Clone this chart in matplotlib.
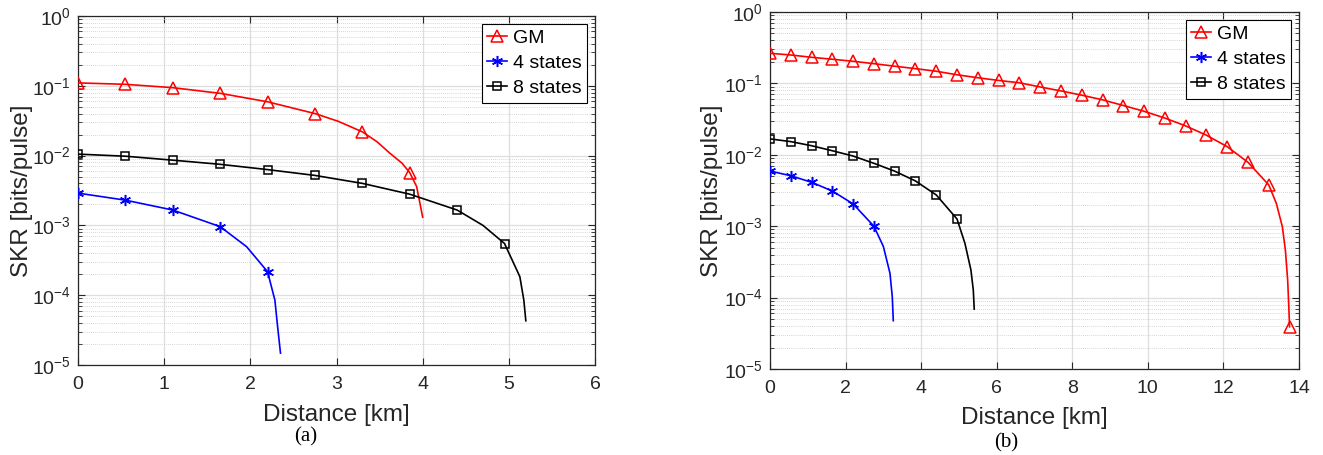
import matplotlib
matplotlib.use("Agg")
import matplotlib.pyplot as plt
from matplotlib.lines import Line2D
import numpy as np

plt.rcParams["font.family"] = ["Liberation Sans", "DejaVu Sans"]
plt.rcParams["mathtext.default"] = "regular"
plt.rcParams["axes.unicode_minus"] = False

# ---- panel (a): markers every 0.55 km, plus extra points ----
gm_a_d = [0, 0.55, 1.1, 1.65, 2.2, 2.75, 3.3, 3.85]
gm_a_skr = [0.110, 0.105, 0.094, 0.078, 0.059, 0.040, 0.0219, 0.0057]
gm_a_tail_d = [3.02, 3.47, 3.62, 3.76, 3.93, 4.0]
gm_a_tail_skr = [0.031, 0.0158, 0.0108, 0.0078, 0.0036, 0.00131]

s4_a_d = [0, 0.55, 1.1, 1.65, 2.2]
s4_a_skr = [0.0029, 0.0023, 0.00166, 0.00096, 0.000217]
s4_a_tail_d = [1.957, 2.285, 2.317, 2.35]
s4_a_tail_skr = [4.95e-4, 8.5e-5, 3.5e-5, 1.48e-5]

s8_a_d = [0, 0.55, 1.1, 1.65, 2.2, 2.75, 3.3, 3.85, 4.4, 4.95]
s8_a_skr = [0.0105, 0.0098, 0.0086, 0.0075, 0.0063, 0.0052, 0.0040, 0.0028, 0.00166, 0.00055]
s8_a_tail_d = [4.7, 5.128, 5.174, 5.197]
s8_a_tail_skr = [0.00100, 1.84e-4, 8.5e-5, 4.3e-5]

# ---- panel (b) ----
gm_b_d = [0, 0.55, 1.1, 1.65, 2.2, 2.75, 3.3, 3.85, 4.4, 4.95, 5.5, 6.05, 6.6,
          7.15, 7.7, 8.25, 8.8, 9.35, 9.9, 10.45, 11.0, 11.55, 12.1, 12.65, 13.2, 13.75]
gm_b_skr = [0.264, 0.250, 0.232, 0.218, 0.204, 0.189, 0.174, 0.161, 0.148, 0.132,
            0.120, 0.110, 0.102, 0.0891, 0.0785, 0.0684, 0.0589, 0.049, 0.0407,
            0.0327, 0.0254, 0.0188, 0.0130, 0.00785, 0.00378, 3.9e-5]
gm_b_tail_d = [13.40, 13.56, 13.64, 13.70, 13.73]
gm_b_tail_skr = [2.09e-3, 9.8e-4, 4.6e-4, 1.76e-4, 7.5e-5]

s4_b_d = [0, 0.55, 1.1, 1.65, 2.2, 2.75]
s4_b_skr = [0.00593, 0.00509, 0.00412, 0.00311, 0.00205, 0.00100]
s4_b_tail_d = [3.0, 3.175, 3.236, 3.263]
s4_b_tail_skr = [5.2e-4, 2.19e-4, 1.03e-4, 4.75e-5]

s8_b_d = [0, 0.55, 1.1, 1.65, 2.2, 2.75, 3.3, 3.85, 4.4, 4.95]
s8_b_skr = [0.0167, 0.0153, 0.0134, 0.0114, 0.0096, 0.0076, 0.0059, 0.0043, 0.00274, 0.00126]
s8_b_tail_d = [5.159, 5.317, 5.38, 5.405]
s8_b_tail_skr = [5.75e-4, 2.44e-4, 1.28e-4, 6.9e-5]

labels = ["GM", "4 states", "8 states"]
colors = ["#ff0000", "#0000ff", "#000000"]
markers = ["^", (6, 2, 0), "s"]
msizes = [8, 8, 6]

W, H = 1323, 455
fig = plt.figure(figsize=(W / 100, H / 100), dpi=100)
ax_a = fig.add_axes([78 / W, 1 - 365 / H, 517 / W, 349 / H])
ax_b = fig.add_axes([770 / W, 1 - 369 / H, 529 / W, 357 / H])

panels = [
    (ax_a, [(gm_a_d, gm_a_skr, gm_a_tail_d, gm_a_tail_skr),
            (s4_a_d, s4_a_skr, s4_a_tail_d, s4_a_tail_skr),
            (s8_a_d, s8_a_skr, s8_a_tail_d, s8_a_tail_skr)], 6, 1),
    (ax_b, [(gm_b_d, gm_b_skr, gm_b_tail_d, gm_b_tail_skr),
            (s4_b_d, s4_b_skr, s4_b_tail_d, s4_b_tail_skr),
            (s8_b_d, s8_b_skr, s8_b_tail_d, s8_b_tail_skr)], 14, 2),
]

dark = "#262626"
for ax, series, xmax, xstep in panels:
    for (d, s, td, ts), c, m, ms in zip(series, colors, markers, msizes):
        xd = np.concatenate([d, td])
        ys = np.concatenate([s, ts])
        order = np.argsort(xd)
        ax.plot(xd[order], ys[order], color=c, lw=1.2, zorder=3)
        ax.plot(d, s, ls="none", marker=m, ms=ms, mfc="none", mec=c, mew=1.1, zorder=4)

    ax.set_yscale("log")
    ax.set_ylim(1e-5, 1)
    ax.set_xlim(0, xmax)
    ax.set_xticks(np.arange(0, xmax + 0.1, xstep))
    ax.grid(which="major", color="#dedede", lw=0.9, ls="-")
    ax.grid(which="minor", axis="y", color="#c8c8c8", lw=0.6, ls=(0, (1, 1.5)))
    ax.set_axisbelow(True)
    ax.tick_params(which="both", direction="in", top=True, right=True,
                   colors=dark, labelsize=14, pad=8)
    ax.tick_params(which="major", length=5, width=0.8)
    ax.tick_params(which="minor", length=3, width=0.6)
    ax.tick_params(axis="x", which="minor", top=False, bottom=False)
    ax.tick_params(axis="y", pad=5)
    for sp in ax.spines.values():
        sp.set_color(dark)
        sp.set_linewidth(0.9)

    ax.set_xlabel("Distance [km]", fontsize=17.5, color=dark)
    ax.set_ylabel("SKR [bits/pulse]", fontsize=17.5, color=dark)

    handles = [Line2D([], [], color=c, lw=1.2, marker=m, ms=ms, mfc="none", mec=c, mew=1.1)
               for c, m, ms in zip(colors, markers, msizes)]
    leg = ax.legend(handles, labels, loc="upper right", fontsize=14, fancybox=False,
                    edgecolor="black", framealpha=1, handlelength=1.0, handletextpad=0.3,
                    borderaxespad=0.4, borderpad=0.3, labelspacing=0.38)
    leg.get_frame().set_linewidth(0.8)

ax_a.yaxis.set_label_coords(-0.087, 0.5)
ax_b.yaxis.set_label_coords(-0.089, 0.5)
ax_a.xaxis.set_label_coords(0.5, -0.112)
ax_b.xaxis.set_label_coords(0.5, -0.107)

fig.text(306 / W, 1 - 437 / H, "(a)", family="Liberation Serif", fontsize=15,
         ha="center", va="center")
fig.text(1006 / W, 1 - 443 / H, "(b)", family="Liberation Serif", fontsize=15,
         ha="center", va="center")

fig.savefig("out.png", dpi=100)
